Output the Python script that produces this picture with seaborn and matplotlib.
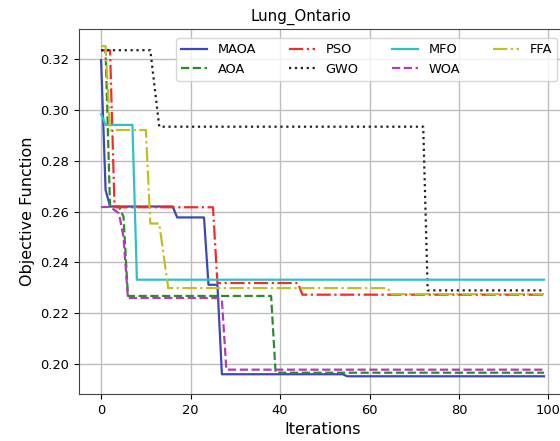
import matplotlib
matplotlib.use("Agg")
import matplotlib.pyplot as plt
import seaborn as sns
import pandas as pd

# Convergence curves (vertices of the step-like curves)
maoa_x = [0, 1, 2, 16, 17, 23, 24, 26, 27, 54, 55, 99]
maoa_y = [0.3196, 0.2685, 0.2620, 0.2620, 0.2577, 0.2577, 0.2312, 0.2312, 0.1960, 0.1960, 0.1952, 0.1952]

aoa_x = [0, 1, 2, 4, 5, 6, 38, 39, 99]
aoa_y = [0.3235, 0.3235, 0.2620, 0.2620, 0.2580, 0.2268, 0.2268, 0.1966, 0.1966]

pso_x = [0, 2, 3, 25, 26, 44, 45, 99]
pso_y = [0.3235, 0.3235, 0.2617, 0.2617, 0.2319, 0.2319, 0.2273, 0.2273]

gwo_x = [0, 11, 13, 72, 73, 99]
gwo_y = [0.3235, 0.3235, 0.2934, 0.2934, 0.2290, 0.2290]

mfo_x = [0, 1, 7, 8, 99]
mfo_y = [0.2984, 0.2941, 0.2941, 0.2332, 0.2332]

woa_x = [0, 2, 4, 5, 6, 26, 27, 28, 99]
woa_y = [0.2618, 0.2618, 0.2593, 0.2500, 0.2260, 0.2260, 0.2252, 0.1978, 0.1978]

ffa_x = [0, 1, 2, 10, 11, 13, 15, 64, 65, 99]
ffa_y = [0.3251, 0.3251, 0.2921, 0.2921, 0.2553, 0.2553, 0.2299, 0.2299, 0.2275, 0.2275]

names = ["MAOA", "AOA", "PSO", "GWO", "MFO", "WOA", "FFA"]
xs = [maoa_x, aoa_x, pso_x, gwo_x, mfo_x, woa_x, ffa_x]
ys = [maoa_y, aoa_y, pso_y, gwo_y, mfo_y, woa_y, ffa_y]
colors = ["#3d48b8", "#2a8c2a", "#f52a2a", "#202020", "#2fc0c8", "#b23cb2", "#c0c020"]
styles = ["-", "--", "-.", ":", "-", "--", "-."]

fig = plt.figure(figsize=(5.6, 4.41), dpi=100)
ax = fig.add_axes([0.141, 0.107, 0.870, 0.827])

for name, x, y, c, ls in zip(names, xs, ys, colors, styles):
    df = pd.DataFrame({"Iterations": x, "Objective Function": y})
    sns.lineplot(data=df, x="Iterations", y="Objective Function", ax=ax,
                 color=c, linestyle=ls, linewidth=1.6, label=name)

ax.set_xticks([0, 20, 40, 60, 80, 100])
ax.set_yticks([0.20, 0.22, 0.24, 0.26, 0.28, 0.30, 0.32])
ax.set_xlim(-4.95, 103.95)
ax.set_ylim(0.1883, 0.3318)
ax.tick_params(labelsize=9.4)
ax.grid(True, color="#bdbdbd", linewidth=1.0)
ax.set_axisbelow(True)
for s in ax.spines.values():
    s.set_color("#444444")

ax.set_xlabel("Iterations", fontsize=11.5)
ax.set_ylabel("Objective Function", fontsize=11.5)
ax.set_title("Lung_Ontario", fontsize=10.8, x=0.456)
ax.legend(loc="upper right", ncol=4, fontsize=9.3, columnspacing=2.6,
          borderaxespad=0.7)

fig.savefig("out.png", dpi=100)
